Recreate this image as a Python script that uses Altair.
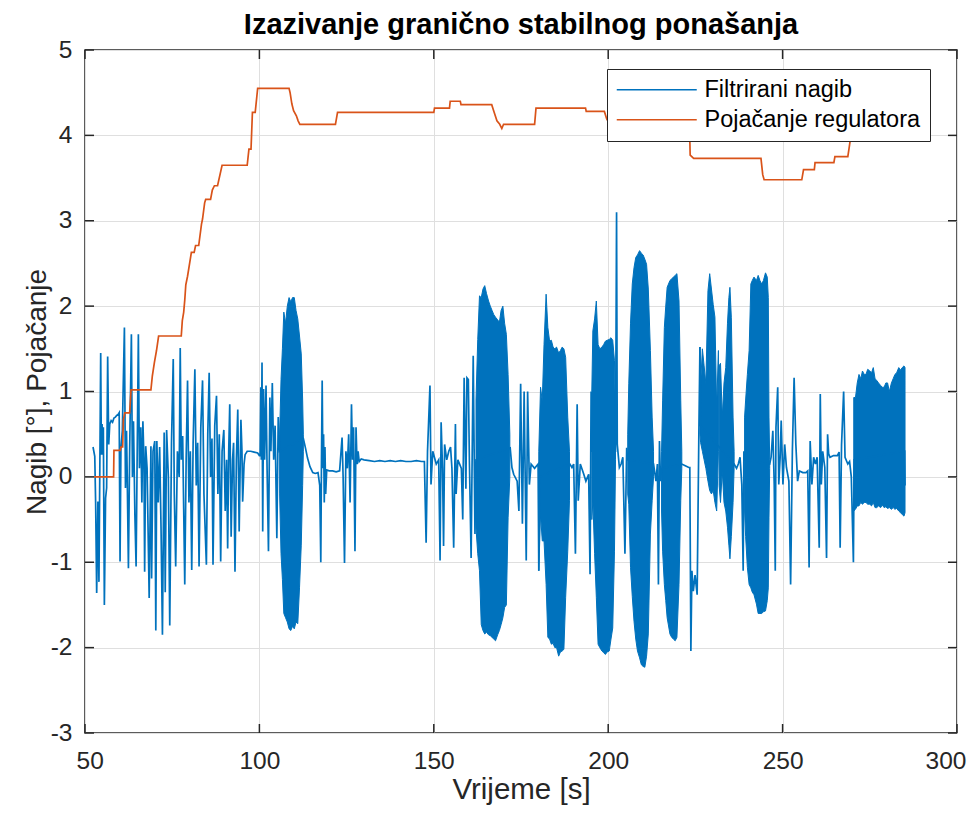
import altair as alt
import pandas as pd

FONT = "Liberation Sans"
BLUE = "#0072BD"
ORANGE = "#D95319"
AX = "#262626"

x_ticks = [50, 100, 150, 200, 250, 300]
y_ticks = [-3, -2, -1, 0, 1, 2, 3, 4, 5]
series_names = ["Filtrirani nagib", "Pojačanje regulatora"]

# Pojačanje regulatora (gain), step-like
gain_points = [
    (52.6, 0.0), (58.2, 0.0), (58.3, 0.31), (60.1, 0.31), (60.3, 0.35), (60.8, 0.35), (61.0, 0.67),
    (61.4, 0.75), (62.8, 0.75), (63.2, 1.02), (68.9, 1.02), (69.3, 1.18), (69.9, 1.34), (70.5, 1.48),
    (71.1, 1.65), (77.6, 1.65), (77.9, 1.83), (78.3, 1.93), (78.6, 2.07), (78.9, 2.25), (79.4, 2.35),
    (80.5, 2.63), (81.3, 2.63), (81.7, 2.71), (82.6, 2.71), (83.4, 2.96), (83.7, 3.02), (84.3, 3.21),
    (84.6, 3.25), (86.0, 3.25), (86.5, 3.36), (87.1, 3.41), (88.0, 3.41), (89.3, 3.65), (96.5, 3.65),
    (97.0, 3.84), (97.6, 3.84), (98.0, 4.27), (98.8, 4.27), (99.5, 4.55), (108.5, 4.55), (108.8, 4.50),
    (109.3, 4.37), (109.8, 4.29), (110.6, 4.23), (111.1, 4.17), (111.6, 4.13), (121.8, 4.13),
    (122.4, 4.27), (150.0, 4.27), (150.2, 4.32), (154.5, 4.32), (154.7, 4.40), (157.6, 4.40),
    (157.8, 4.36), (166.6, 4.36), (167.3, 4.27), (168.1, 4.17), (168.9, 4.13), (169.5, 4.08),
    (170.0, 4.13), (178.9, 4.13), (179.3, 4.32), (193.5, 4.32), (193.7, 4.28), (198.9, 4.28),
    (199.6, 4.19), (200.2, 4.15), (200.5, 4.13), (223.3, 4.13), (223.5, 3.77), (224.5, 3.73),
    (243.8, 3.73), (244.3, 3.54), (244.7, 3.48), (255.5, 3.48), (256.0, 3.60), (259.1, 3.60),
    (259.3, 3.68), (264.7, 3.68), (265.0, 3.75), (268.7, 3.75), (269.2, 3.89), (269.6, 4.0), (285.0, 4.0),
]

# Filtrirani nagib (filtered tilt), sparse parts between oscillation bursts
nagib_points = [
    (52.3, 0.35), (52.8, 0.24), (53.05, -0.3), (53.35, -1.36), (53.7, -0.29), (54.0, -1.23), (54.25, 0.1),
    (54.5, 1.45), (54.7, 0.26), (54.9, 0.62), (55.07, 0.26), (55.26, 0.58), (55.55, -1.5), (55.9, -0.25),
    (56.2, -0.13), (56.5, 1.41), (56.8, 0.38), (57.1, 0.62), (57.5, 0.66), (57.9, 0.64), (58.3, 0.69),
    (58.7, 0.7), (59.1, 0.72), (59.5, 0.73), (59.8, 0.75), (60.05, -0.99), (60.3, 0.34), (60.7, 0.54),
    (61.3, 1.75), (61.6, -0.13), (61.9, 0.54), (62.1, 0.03), (62.45, -1.07), (62.8, 0.30), (63.3, 1.67),
    (63.6, 0.0), (63.9, 0.65), (64.3, -0.44), (64.65, -1.05), (65.0, 0.42), (65.3, 1.67), (65.6, 0.1),
    (66.0, 0.58), (66.3, -0.3), (66.6, 0.65), (66.9, 0.2), (67.1, -1.11), (67.4, 0.36), (67.8, 0.1),
    (68.4, -1.42), (68.9, 0.36), (69.1, -1.19), (69.5, 0.3), (70.0, 0.42), (70.3, -1.8), (70.6, 0.42),
    (71.0, -0.3), (71.4, 0.35), (71.8, -0.6), (72.2, -1.85), (72.7, 0.52), (73.0, -1.35), (73.4, 0.55),
    (73.9, 0.0), (74.3, -1.74), (74.8, 0.4), (75.3, 1.38), (75.6, -0.2), (76.0, -1.05), (76.5, 0.3),
    (77.0, 0.0), (77.3, 1.51), (77.6, 0.2), (78.0, 0.48), (78.6, -1.26), (79.0, 0.2), (79.4, 1.13),
    (79.8, -0.3), (80.2, 0.3), (80.6, -1.09), (81.0, 0.4), (81.5, 1.26), (81.9, -0.1), (82.3, 0.4),
    (82.7, -1.05), (83.2, 0.58), (83.7, 1.13), (84.1, -0.2), (84.8, -1.03), (85.2, 0.5), (85.6, 1.22),
    (86.0, 0.0), (86.4, 0.45), (86.7, -1.03), (87.2, 0.6), (87.7, 0.95), (88.1, -0.2), (88.5, 0.5),
    (88.9, -0.99), (89.3, 0.3), (89.8, 0.55), (90.2, -0.4), (90.6, 0.2), (90.9, -0.84), (91.2, 0.3),
    (91.5, 0.85), (91.9, -0.7), (92.3, 0.2), (92.6, 0.4), (93.0, -1.11), (93.4, 0.2), (93.8, 0.79),
    (94.2, -0.64), (94.7, 0.67), (95.0, 0.3), (95.2, -0.29), (95.6, 0.15), (95.9, 0.26), (96.5, 0.3),
    (97.5, 0.3), (98.5, 0.29), (99.5, 0.28), (100.0, 0.25), (100.2, 0.25), (100.4, 1.05), (100.55, 0.2),
    (100.75, 1.34), (100.95, -0.64), (101.2, 1.03), (101.5, 0.2), (101.9, 1.07), (102.2, 0.1),
    (102.6, -0.87), (103.0, 0.93), (103.3, 0.3), (103.7, 1.1), (104.1, 0.2), (104.5, 0.6), (105.0, -0.72),
    (105.4, 0.7), (105.8, 0.3), (112.6, 0.45), (113.2, 0.34), (113.8, 0.22), (114.5, 0.12), (115.3, 0.05),
    (116.0, 0.04), (116.8, 0.05), (117.3, -0.1), (117.6, -1.0), (117.8, 0.2), (118.0, 1.13), (118.2, 0.1),
    (118.4, 0.5), (118.6, -0.3), (118.8, 0.35), (119.0, -0.2), (119.3, 0.08), (120.0, 0.07), (121.0, 0.07),
    (122.0, 0.06), (123.0, 0.07), (123.7, 0.46), (124.0, 0.0), (124.4, -1.01), (124.8, 0.3), (125.2, 0.1),
    (125.6, 0.5), (126.0, -0.3), (126.4, 0.85), (126.7, 0.2), (127.0, 0.58), (127.4, -0.87), (127.7, 0.58),
    (128.0, 0.15), (128.3, 0.3), (128.6, 0.18), (129.2, 0.21), (130.0, 0.2), (131.5, 0.19), (133.0, 0.18),
    (134.5, 0.19), (136.0, 0.18), (137.5, 0.19), (139.0, 0.18), (140.5, 0.19), (142.0, 0.18),
    (143.5, 0.18), (145.0, 0.19), (146.5, 0.18), (147.3, 0.18), (147.8, -0.77), (148.2, 0.3), (148.9, 1.07),
    (149.2, -0.09), (149.7, 0.3), (150.7, 0.15), (151.4, 0.2), (151.8, -0.98), (152.1, 0.64), (152.5, 0.1),
    (152.8, -0.81), (153.1, 0.38), (153.7, 0.2), (154.3, 0.3), (154.8, 0.35), (155.2, 0.1), (155.7, -0.83),
    (156.2, 0.62), (156.4, -0.2), (156.9, 0.2), (157.4, 0.15), (157.9, 0.1), (158.3, -0.5), (158.7, 1.16),
    (159.2, -0.14), (159.5, 1.16), (159.9, 1.14), (160.2, 0.2), (160.7, -0.95), (161.3, 1.42),
    (161.8, -0.67), (162.1, 0.2), (171.9, 0.34), (172.4, 0.11), (172.9, 0.03), (173.9, -0.05),
    (174.4, -0.4), (174.9, 1.09), (175.4, -0.55), (175.9, 1.0), (176.5, -0.98), (176.9, 1.0),
    (177.4, -0.09), (177.9, 0.15), (178.9, 0.1), (179.9, 0.15), (180.1, -1.1), (180.3, 0.0), (189.0, 0.15),
    (189.6, 0.11), (190.1, 0.15), (190.6, -0.9), (191.1, 0.85), (191.4, -0.28), (192.0, 0.15),
    (193.0, 0.03), (193.6, -0.05), (194.4, 0.03), (194.8, -1.14), (195.1, 1.0), (195.4, 0.3), (202.1, 0.3),
    (202.4, 3.1), (202.6, 0.38), (203.2, 0.11), (203.7, 0.15), (204.2, 0.23), (204.8, -0.9), (205.3, 0.34),
    (205.6, 0.2), (213.0, 0.15), (213.7, -0.05), (214.1, 0.15), (214.4, -1.26), (214.7, 0.42), (215.0, -0.05),
    (215.3, 0.1), (221.1, 0.15), (222.1, 0.13), (223.1, 0.11), (223.4, 0.11), (223.7, -2.04),
    (224.0, -1.1), (224.4, -1.34), (224.9, -1.15), (225.5, -1.38), (226.0, 0.54), (226.3, 1.52),
    (226.5, 0.6), (236.1, 0.15), (236.8, 0.1), (237.3, 0.15), (237.8, 0.23), (238.3, -0.09), (238.7, -1.1),
    (238.9, 0.3), (239.1, 0.2), (246.3, 0.15), (246.7, 0.23), (247.2, 0.54), (247.6, -0.09), (247.9, -1.1),
    (248.1, 0.58), (248.6, 1.05), (248.9, -0.09), (249.3, 0.23), (249.6, 0.66), (250.1, -0.09),
    (250.6, 0.38), (251.1, 0.11), (251.8, -0.05), (252.3, -1.26), (252.8, 0.3), (253.3, 1.16),
    (253.8, 0.38), (254.3, -0.05), (254.8, 0.07), (255.8, 0.05), (256.7, 0.05), (257.2, 0.07),
    (257.6, -1.06), (257.9, 0.42), (258.4, -0.09), (258.9, 0.23), (259.4, 0.15), (259.9, 0.23),
    (260.5, -0.83), (260.8, 0.97), (261.1, -0.09), (261.5, 0.3), (262.1, 0.11), (262.6, -0.95),
    (262.9, 0.5), (263.2, 0.27), (263.6, 0.23), (264.6, 0.25), (265.7, 0.25), (266.2, 0.29),
    (266.5, -0.83), (266.9, 0.38), (267.5, 1.0), (267.9, 0.23), (268.7, 0.15), (269.2, 0.18), (269.7, 0.0),
    (270.3, -1.0), (270.5, 0.2), (285.0, 0.3), (285.1, -0.1),
]

# Dense oscillation bursts: (time, upper envelope, lower envelope)
burst_A = [(105.8, 0.5, -0.2), (106.2, 1.14, -0.9), (106.6, 1.5, -1.2), (107.0, 1.93, -1.6), (107.5, 1.8, -1.65),
           (108.0, 2.0, -1.7), (108.5, 2.1, -1.78), (109.0, 2.05, -1.8), (109.5, 2.1, -1.75), (110.0, 2.1, -1.78),
           (110.5, 1.95, -1.7), (111.0, 1.85, -1.72), (111.5, 1.65, -1.3), (112.0, 1.44, -0.8), (112.4, 0.9, -0.1),
           (112.6, 0.5, 0.3)]
burst_B = [(162.1, 0.9, -0.6), (162.6, 1.61, -0.9), (163.1, 2.12, -1.1), (163.6, 2.1, -1.73), (164.1, 2.2, -1.8),
           (164.6, 2.24, -1.84), (165.1, 2.15, -1.82), (165.7, 2.06, -1.85), (166.2, 2.0, -1.86), (166.7, 1.95, -1.88),
           (167.2, 1.9, -1.9), (167.7, 1.87, -1.92), (168.3, 1.84, -1.85), (168.8, 1.81, -1.8), (169.3, 1.95, -1.73),
           (169.8, 2.0, -1.65), (170.3, 1.8, -1.53), (170.8, 1.67, -1.5), (171.3, 1.2, -0.48), (171.8, 0.5, 0.0)]
burst_C = [(180.1, 0.3, -1.1), (180.6, 1.05, -0.44), (181.1, 0.89, -0.75), (181.6, 1.55, -0.75), (182.2, 2.14, -1.26),
           (182.7, 1.75, -1.88), (183.2, 1.59, -1.9), (183.7, 1.6, -1.96), (184.2, 1.52, -1.95), (184.7, 1.5, -2.0),
           (185.2, 1.52, -2.0), (185.8, 1.45, -2.1), (186.3, 1.48, -2.05), (186.8, 1.52, -2.04), (187.3, 1.5, -2.02),
           (187.8, 1.4, -1.41), (188.4, 0.7, -0.87), (188.9, 0.3, -0.28)]
burst_D = [(195.3, 1.0, -0.5), (195.6, 1.71, -0.28), (196.1, 1.85, -0.9), (196.6, 2.06, -1.41), (197.1, 1.55, -1.96),
           (197.6, 1.5, -2.0), (198.2, 1.52, -2.04), (198.7, 1.55, -2.06), (199.2, 1.59, -2.08), (199.7, 1.6, -2.05),
           (200.3, 1.61, -2.04), (200.8, 1.63, -1.9), (201.3, 1.6, -1.77), (201.8, 1.36, -0.87), (202.1, 0.6, 0.2)]
burst_E = [(205.6, 0.5, -0.2), (205.9, 1.09, -0.32), (206.4, 1.8, -1.06), (206.9, 2.26, -1.4), (207.4, 2.45, -1.69),
           (207.9, 2.57, -1.9), (208.4, 2.6, -2.04), (209.0, 2.65, -2.12), (209.5, 2.62, -2.2), (210.0, 2.6, -2.22),
           (210.5, 2.55, -2.23), (211.0, 2.49, -2.1), (211.5, 2.2, -1.84), (212.1, 1.48, -0.67), (212.6, 0.7, -0.28),
           (213.0, 0.3, 0.0)]
burst_F = [(215.3, 0.3, -0.4), (215.6, 0.89, -0.87), (216.1, 1.75, -1.26), (216.5, 2.0, -1.45), (216.9, 2.22, -1.65),
           (217.7, 2.3, -1.84), (218.2, 2.32, -1.88), (218.7, 2.34, -1.9), (219.2, 2.36, -1.92), (219.7, 2.38, -1.88),
           (220.3, 2.06, -1.26), (220.8, 0.89, -0.28), (221.1, 0.3, 0.1)]
burst_G = [(226.3, 1.52, 0.5), (226.5, 1.09, 0.4), (227.0, 1.5, 0.3), (227.5, 1.3, 0.2), (228.0, 1.09, 0.1),
           (228.6, 2.18, -0.05), (229.1, 2.38, -0.16), (229.6, 2.2, -0.2), (230.1, 2.02, -0.16), (230.6, 1.87, -0.3),
           (231.1, 0.81, -0.4), (231.6, 1.48, 0.3)]
burst_H = [(231.8, 1.3, -0.1), (232.2, 1.33, -0.3), (232.7, 0.7, 0.07), (233.2, 1.1, -0.3), (233.7, 1.28, -0.4),
           (234.2, 1.8, -0.59), (234.6, 2.1, -0.8), (234.9, 2.22, -0.96), (235.3, 1.87, -0.7), (235.8, 0.7, -0.3),
           (236.1, 0.3, 0.1)]
burst_I = [(239.1, 0.7, -0.4), (239.4, 0.9, -0.7), (239.9, 1.2, -1.06), (240.4, 1.48, -1.26), (240.9, 2.26, -1.3),
           (241.3, 2.3, -1.35), (241.8, 2.34, -1.38), (242.5, 2.3, -1.49), (243.0, 2.36, -1.6), (243.5, 2.3, -1.6),
           (244.0, 2.26, -1.6), (244.5, 2.3, -1.58), (245.1, 2.39, -1.57), (245.6, 2.34, -1.45), (245.9, 2.1, -1.3),
           (246.1, 0.7, -0.48), (246.3, 0.2, 0.1)]
burst_J = [(270.4, 0.93, -0.4), (270.9, 0.93, -0.38), (271.4, 1.1, -0.34), (271.9, 1.2, -0.34), (272.4, 1.15, -0.3),
           (272.9, 1.24, -0.32), (273.4, 1.2, -0.3), (273.9, 1.2, -0.3), (274.4, 1.26, -0.32), (275.0, 1.24, -0.32),
           (275.5, 1.22, -0.34), (276.0, 1.28, -0.3), (276.5, 1.15, -0.36), (277.0, 1.13, -0.36), (277.5, 1.1, -0.34),
           (278.1, 1.07, -0.36), (278.6, 1.05, -0.33), (279.1, 1.05, -0.36), (279.6, 1.1, -0.35), (280.1, 1.1, -0.37),
           (280.6, 1.0, -0.36), (281.2, 1.1, -0.38), (281.7, 1.15, -0.36), (282.2, 1.2, -0.38), (282.7, 1.22, -0.37),
           (283.3, 1.28, -0.4), (283.8, 1.25, -0.42), (284.3, 1.28, -0.44), (284.8, 1.3, -0.46), (285.1, 1.28, -0.42)]

# ---- build tables ----
rows = []
k = 0
for t, v in nagib_points:
    rows.append({"t": t, "v": v, "series": series_names[0], "i": k}); k += 1
for t, v in gain_points:
    rows.append({"t": t, "v": v, "series": series_names[1], "i": k}); k += 1
lines_df = pd.DataFrame(rows)

brows = []
for name, b in [("A", burst_A), ("B", burst_B), ("C", burst_C), ("D", burst_D), ("E", burst_E),
                ("F", burst_F), ("G", burst_G), ("H", burst_H), ("I", burst_I), ("J", burst_J)]:
    for t, hi, lo in b:
        brows.append({"t": t, "hi": hi, "lo": lo, "id": name})
burst_df = pd.DataFrame(brows)

xt_df = pd.DataFrame({"t": x_ticks})
yt_df = pd.DataFrame({"v": y_ticks})

W, H = 872, 683
xs = alt.Scale(domain=[50, 300], nice=False, zero=False)
ys = alt.Scale(domain=[-3, 5], nice=False, zero=False)

x_axis = alt.Axis(values=x_ticks, title="Vrijeme [s]", grid=True, gridColor="#dfdfdf", gridWidth=1,
                  domain=False, ticks=False, labelFlush=True, labelFlushOffset=9, labelOverlap=False,
                  labelFont=FONT, labelFontSize=24.5, labelColor=AX, labelPadding=16,
                  labelExpr="'' + datum.value",
                  titleFont=FONT, titleFontSize=29.5, titleFontWeight="normal", titleColor=AX,
                  titleX=W / 2, titleY=65, titleBaseline="alphabetic", titleAlign="center")
y_axis = alt.Axis(values=y_ticks, title="Nagib [°], Pojačanje", grid=True, gridColor="#dfdfdf", gridWidth=1,
                  domain=False, ticks=False, labelFlush=False, labelOverlap=False,
                  labelFont=FONT, labelFontSize=24.5, labelColor=AX, labelPadding=13,
                  labelExpr="'' + datum.value",
                  titleFont=FONT, titleFontSize=28, titleFontWeight="normal", titleColor=AX,
                  titleAngle=270, titleX=-40, titleY=H / 2, titleBaseline="alphabetic", titleAlign="center")

X = alt.X("t:Q", scale=xs, axis=x_axis)
Y = alt.Y("v:Q", scale=ys, axis=y_axis)

areas = alt.Chart(burst_df).mark_area(color=BLUE, opacity=1, stroke=BLUE, strokeWidth=1,
                                      interpolate="linear").encode(
    x=X,
    y=alt.Y("lo:Q", scale=ys, axis=y_axis),
    y2="hi:Q",
    detail="id:N",
)

lines = alt.Chart(lines_df).mark_line(strokeWidth=1.7).encode(
    x=X,
    y=Y,
    color=alt.Color("series:N", scale=alt.Scale(domain=series_names, range=[BLUE, ORANGE]),
                    legend=alt.Legend(title=None, orient="none", legendX=522, legendY=19,
                                      symbolType="M-2.2,0H13.8", symbolSize=100, symbolStrokeWidth=1.5,
                                      labelFont=FONT, labelFontSize=23.5, labelColor="black",
                                      labelOffset=65, labelLimit=500, padding=9, rowPadding=5,
                                      fillColor="white", strokeColor=AX, cornerRadius=0)),
    order="i:Q",
)

tick_len = 9
bottom_ticks = alt.Chart(xt_df).mark_rule(color=AX, strokeWidth=1.5).encode(
    x=X, y=alt.value(H), y2=alt.value(H - tick_len))
top_ticks = alt.Chart(xt_df).mark_rule(color=AX, strokeWidth=1.5).encode(
    x=X, y=alt.value(0), y2=alt.value(tick_len))
left_ticks = alt.Chart(yt_df).mark_rule(color=AX, strokeWidth=1.5).encode(
    y=Y, x=alt.value(0), x2=alt.value(tick_len))
right_ticks = alt.Chart(yt_df).mark_rule(color=AX, strokeWidth=1.5).encode(
    y=Y, x=alt.value(W), x2=alt.value(W - tick_len))

chart = alt.layer(areas, lines, bottom_ticks, top_ticks, left_ticks, right_ticks).properties(
    width=W, height=H,
    padding={"left": 77, "top": 42, "right": 11, "bottom": 72},
    autosize=alt.AutoSizeParams(type="none"),
    background="white",
    title=alt.TitleParams(text="Izazivanje granično stabilnog ponašanja", font=FONT, fontSize=29,
                          fontWeight="bold", color="black", anchor="middle", offset=8, dy=11),
).configure_view(stroke=AX, strokeWidth=1.5)

chart.save("out.html", embed_options={"renderer": "svg", "actions": False})
